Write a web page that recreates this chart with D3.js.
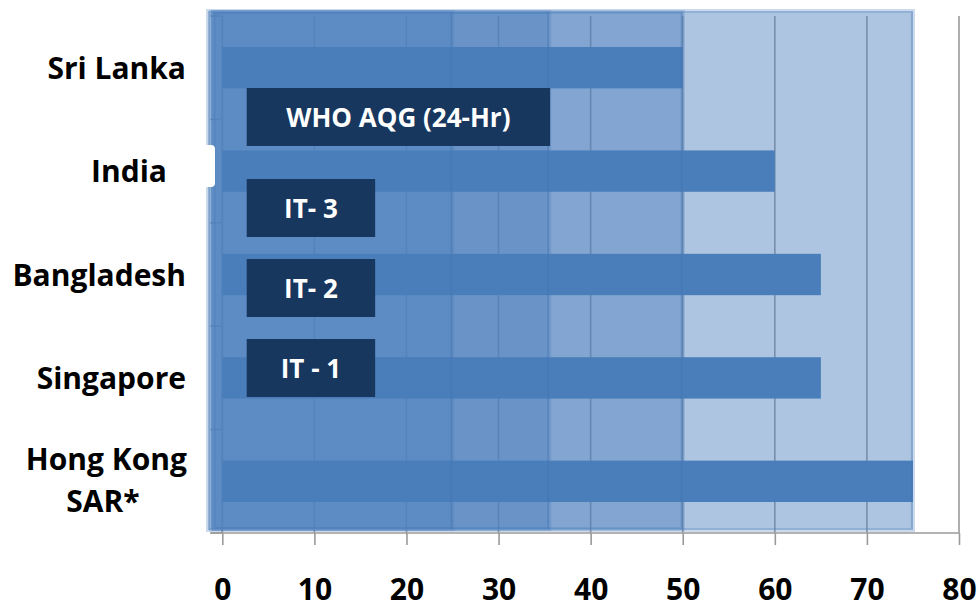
<!DOCTYPE html>
<html>
<head>
<meta charset="utf-8">
<script src="https://cdn.jsdelivr.net/npm/d3@7/dist/d3.min.js"></script>
<style>
  html, body { margin: 0; padding: 0; background: #fff; }
  svg { display: block; }
  text { font-family: "Open Sans", Lato, "DejaVu Sans", sans-serif; font-weight: 700; }
</style>
</head>
<body>
<svg id="chart" width="980" height="613"></svg>
<script>
// Annual PM2.5 standards by country/territory (µg/m³)
const categories = ["Sri Lanka", "India", "Bangladesh", "Singapore", "Hong Kong SAR*"];
const values = [50, 60, 65, 65, 75];

// WHO guideline levels shown as shaded bands, widest first
const guidelineLevels = [75, 50, 35.5, 25];
const guidelineLabels = ["WHO AQG (24-Hr)", "IT- 3", "IT- 2", "IT - 1"];

const xTicks = [0, 10, 20, 30, 40, 50, 60, 70, 80];

const W = 980, H = 613;
const plot = { left: 222.3, right: 959, top: 16, bottom: 533 };

const svg = d3.select("#chart");

const x = d3.scaleLinear().domain([0, 80]).range([plot.left, plot.right]);
const y = d3.scaleBand().domain(categories)
  .range([plot.top, plot.bottom])
  .paddingInner(0.6).paddingOuter(0.3);

const blue = "#4F81BD";
const gridGray = "#9a9a9a";

// vertical gridlines
svg.append("g")
  .selectAll("line")
  .data(xTicks)
  .join("line")
  .attr("x1", d => x(d)).attr("x2", d => x(d))
  .attr("y1", plot.top).attr("y2", plot.bottom)
  .attr("stroke", gridGray).attr("stroke-width", 1.6);

// bottom axis
const xAxis = d3.axisBottom(x).tickValues(xTicks).tickSize(12).tickSizeOuter(0).tickPadding(34);
const gx = svg.append("g")
  .attr("transform", `translate(0,${plot.bottom})`)
  .call(xAxis);
gx.select(".domain").remove();
gx.selectAll(".tick line").attr("stroke", gridGray).attr("stroke-width", 1.6);
gx.selectAll(".tick text")
  .attr("fill", "#000")
  .style("font-size", "30px");
svg.append("line")
  .attr("x1", plot.left - 12).attr("x2", plot.right)
  .attr("y1", plot.bottom).attr("y2", plot.bottom)
  .attr("stroke", gridGray).attr("stroke-width", 1.6);

// left axis: ticks on category boundaries
const boundaries = [plot.top].concat(categories.map(c => y(c) + y.bandwidth() + y.step() * 0.3));
svg.append("g")
  .selectAll("line")
  .data(boundaries)
  .join("line")
  .attr("x1", plot.left - 12).attr("x2", plot.left)
  .attr("y1", d => d).attr("y2", d => d)
  .attr("stroke", gridGray).attr("stroke-width", 1.6);
svg.append("line")
  .attr("x1", plot.left).attr("x2", plot.left)
  .attr("y1", plot.top).attr("y2", plot.bottom)
  .attr("stroke", gridGray).attr("stroke-width", 1.6);

// translucent guideline bands, stacked so lower limits read darker
const bandLeft = [208, 211, 213, 214];
const bands = svg.append("g");
bands.selectAll("rect")
  .data(guidelineLevels)
  .join("rect")
  .attr("x", (d, i) => bandLeft[i])
  .attr("y", (d, i) => i === 0 ? 11 : 12)
  .attr("width", (d, i) => x(d) - bandLeft[i])
  .attr("height", (d, i) => (i === 0 ? 519 : 517))
  .attr("fill", blue).attr("fill-opacity", 0.46)
  .attr("stroke", blue).attr("stroke-opacity", 0.3).attr("stroke-width", 4);

// white backing of the India label
svg.append("rect")
  .attr("x", 80).attr("y", 145).attr("width", 135).attr("height", 42)
  .attr("rx", 4).attr("fill", "#fff");

// bars
svg.append("g")
  .selectAll("rect")
  .data(categories)
  .join("rect")
  .attr("x", x(0))
  .attr("y", d => y(d))
  .attr("width", (d, i) => x(values[i]) - x(0))
  .attr("height", y.bandwidth())
  .attr("fill", "#4A7EBB");

// faint band edges across the bars
svg.append("g")
  .selectAll("line")
  .data(guidelineLevels)
  .join("line")
  .attr("x1", d => x(d) - 1).attr("x2", d => x(d) - 1)
  .attr("y1", 12).attr("y2", 529)
  .attr("stroke", "#2d5a94").attr("stroke-opacity", 0.12).attr("stroke-width", 2);

// category labels
const catLabels = svg.append("g").attr("fill", "#000").style("font-size", "30px");
categories.forEach((c, i) => {
  const cy = y(c) + y.bandwidth() / 2;
  if (c === "Hong Kong SAR*") {
    catLabels.append("text").attr("x", 187).attr("y", cy - 11).attr("text-anchor", "end").text("Hong Kong");
    catLabels.append("text").attr("x", 103).attr("y", cy + 31).attr("text-anchor", "middle").text("SAR*");
  } else {
    const ax = c === "India" ? 167 : 186;
    catLabels.append("text").attr("x", ax).attr("y", cy + 11).attr("text-anchor", "end").text(c);
  }
});

// guideline label boxes
const boxLayout = [
  { x0: 2.65, x1: 35.6, y0: 88 },
  { x0: 2.65, x1: 16.6, y0: 179 },
  { x0: 2.65, x1: 16.6, y0: 259 },
  { x0: 2.65, x1: 16.6, y0: 339 }
];
const boxH = 58;
const boxes = svg.append("g");
guidelineLabels.forEach((lab, i) => {
  const b = boxLayout[i];
  boxes.append("rect")
    .attr("x", x(b.x0)).attr("y", b.y0)
    .attr("width", x(b.x1) - x(b.x0)).attr("height", boxH)
    .attr("fill", "#17375E");
  boxes.append("text")
    .attr("x", (x(b.x0) + x(b.x1)) / 2).attr("y", b.y0 + boxH / 2 + 10)
    .attr("text-anchor", "middle").attr("fill", "#fff")
    .style("font-size", "26px")
    .text(lab);
});
</script>
</body>
</html>
